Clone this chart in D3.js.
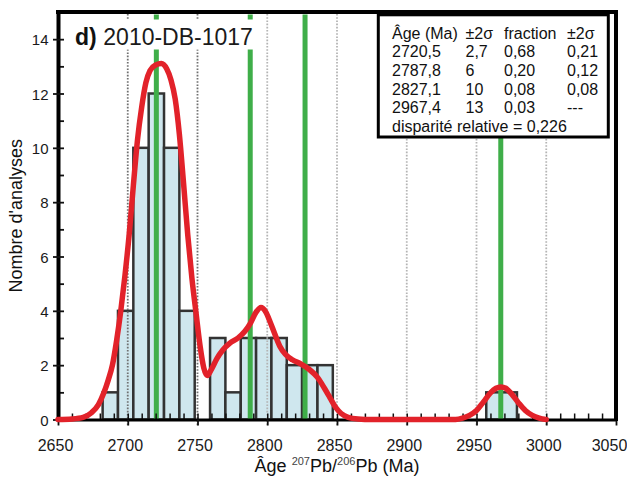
<!DOCTYPE html>
<html><head><meta charset="utf-8">
<script src="https://cdn.jsdelivr.net/npm/d3@7"></script>
<style>
body{margin:0;background:#fff}
svg{display:block;font-family:"Liberation Sans",Arial,sans-serif}
</style>
</head><body>
<svg id="c" width="627" height="480"></svg>
<script>
// ---------- data ----------
const binStarts = [2682,2693,2704,2715,2726,2737,2748,2759,2770,2781,2792,2803,2814,2825,2836,2957,2968];
const binWidthMa = 11;
const binCounts = [1,4,10,12,10,4,0,3,1,3,3,3,2,2,2,1,1];

const curveAges   = [2650,2660,2668,2674,2679,2683,2686,2689,2692,2695,2698,2701,2704,2707,2710,2713,2716,2720,2724,2728,2731,2734,2737,2740,2743,2746,2749,2752,2754.5,2757,2760,2764,2768,2773,2779,2784,2788,2792,2795.5,2799,2802,2805,2809,2813,2818,2824,2830,2836,2841,2845,2849,2853,2858,2865,2875,2900,2935,2940,2945,2950,2955,2960,2964,2967.5,2971,2975,2980,2985,2990,2995,3000];
const curveValues = [0,0.02,0.08,0.25,0.55,1.0,1.45,2.0,2.9,4.0,5.3,6.8,8.6,10.3,11.5,12.4,12.85,13.05,13.1,12.9,12.5,11.8,10.5,8.7,6.8,5.2,3.9,2.65,1.9,1.62,1.85,2.25,2.55,2.8,3.0,3.25,3.55,3.95,4.12,3.95,3.6,3.2,2.7,2.4,2.2,2.05,1.85,1.55,1.15,0.8,0.45,0.22,0.08,0.02,0,0,0,0.05,0.15,0.33,0.65,0.98,1.15,1.2,1.15,0.95,0.62,0.33,0.15,0.05,0];

const peakAges = [2720.5, 2787.8, 2827.1, 2967.4];
const gridAges = [2700, 2750, 2800, 2850, 2900, 2950, 3000];
const xTickValues = [2650, 2700, 2750, 2800, 2850, 2900, 2950, 3000, 3050];
const xMinorTicks = [2650,2660,2670,2680,2690,2700,2710,2720,2730,2740,2750,2760,2770,2780,2790,2800,2810,2820,2830,2840,2850,2860,2870,2880,2890,2900,2910,2920,2930,2940,2950,2960,2970,2980,2990,3000,3010,3020,3030,3040,3050];
const yTickValues = [0, 2, 4, 6, 8, 10, 12, 14];
const yMinorTicks = [1, 3, 5, 7, 9, 11, 13];

const sampleLabelBold = "d)";
const sampleLabel = "2010-DB-1017";
const xTitleParts = ["Âge ", "207", "Pb/", "206", "Pb (Ma)"];
const yTitle = "Nombre d'analyses";

const tableHeader  = ["Âge (Ma)", "±2σ", "fraction", "±2σ"];
const tableAge     = ["2720,5", "2787,8", "2827,1", "2967,4"];
const tableAgeErr  = ["2,7", "6", "10", "13"];
const tableFrac    = ["0,68", "0,20", "0,08", "0,03"];
const tableFracErr = ["0,21", "0,12", "0,08", "---"];
const tableFooter  = "disparité relative = 0,226";

// ---------- layout ----------
const svg = d3.select("#c");
const L = 58, R = 616, T = 12, B = 419.5;
const x = d3.scaleLinear().domain([2650, 3050]).range([L, R]);
const y = d3.scaleLinear().domain([0, 15]).range([B, T]);

// histogram bars
svg.append("g").selectAll("rect")
  .data(binStarts.map((s, i) => ({s, c: binCounts[i]})).filter(d => d.c > 0))
  .join("rect")
  .attr("x", d => x(d.s))
  .attr("y", d => y(d.c))
  .attr("width", d => x(d.s + binWidthMa) - x(d.s))
  .attr("height", d => y(0) - y(d.c))
  .attr("fill", "#cfe7ee")
  .attr("stroke", "#333")
  .attr("stroke-width", 2.5);

// dotted grid lines
svg.append("g").selectAll("line")
  .data(gridAges).join("line")
  .attr("x1", d => x(d)).attr("x2", d => x(d))
  .attr("y1", y(15) + 2).attr("y2", y(0) + 6)
  .attr("stroke", d => d <= 2750 ? "#707070" : "#b4b4b4")
  .attr("stroke-width", 1.8)
  .attr("stroke-dasharray", "1.6,1.6");

// green component lines
svg.append("g").selectAll("line")
  .data(peakAges).join("line")
  .attr("x1", d => x(d)).attr("x2", d => x(d))
  .attr("y1", y(15) + 2.5).attr("y2", y(0))
  .attr("stroke", "#3fae49")
  .attr("stroke-width", 5);

// axes
const xMinor = d3.axisBottom(x).tickValues(xMinorTicks).tickSize(-6).tickFormat("");
const gxm = svg.append("g").attr("transform", `translate(0,${B})`).call(xMinor);
gxm.select(".domain").remove();
gxm.selectAll(".tick line").attr("stroke", "#111").attr("stroke-width", 1.5);

const xAxis = d3.axisBottom(x).tickValues(xTickValues).tickSizeInner(6).tickSizeOuter(0).tickFormat(d => String(d));
const gx = svg.append("g").attr("transform", `translate(0,${B})`).call(xAxis);
gx.select(".domain").attr("stroke", "#000").attr("stroke-width", 3);
gx.selectAll(".tick line").attr("stroke", "#111").attr("stroke-width", 1.8);
gx.selectAll(".tick text").attr("y", 20.5).attr("dy", "0.71em").attr("dx", d => d === 3050 ? -7 : -3)
  .attr("font-size", 16).attr("fill", "#1a1a1a").attr("font-family", "Liberation Sans, Arial, sans-serif");

const yMinor = d3.axisLeft(y).tickValues(yMinorTicks).tickSize(-6).tickFormat("");
const gym = svg.append("g").attr("transform", `translate(${L},0)`).call(yMinor);
gym.select(".domain").remove();
gym.selectAll(".tick line").attr("stroke", "#111").attr("stroke-width", 1.8);

const yAxis = d3.axisLeft(y).tickValues(yTickValues).tickSizeInner(5).tickSizeOuter(0).tickPadding(4.5);
const gy = svg.append("g").attr("transform", `translate(${L},0)`).call(yAxis);
gy.select(".domain").attr("stroke", "#000").attr("stroke-width", 4);
gy.selectAll(".tick line").attr("stroke", "#111").attr("stroke-width", 1.8).attr("x2", -5).attr("x1", 6);
gy.selectAll(".tick text").attr("dy", "0.38em")
  .attr("font-size", 15).attr("fill", "#1a1a1a").attr("font-family", "Liberation Sans, Arial, sans-serif");

// top & right frame
svg.append("line").attr("x1", L - 2).attr("x2", R + 2).attr("y1", T).attr("y2", T)
  .attr("stroke", "#000").attr("stroke-width", 4);
svg.append("line").attr("x1", R).attr("x2", R).attr("y1", T).attr("y2", B + 1.5)
  .attr("stroke", "#000").attr("stroke-width", 4);

// probability density curve
const line = d3.line().x(d => x(d[0])).y(d => y(d[1])).curve(d3.curveMonotoneX);
svg.append("path")
  .datum(curveAges.map((a, i) => [a, curveValues[i]]))
  .attr("d", line)
  .attr("fill", "none")
  .attr("stroke", "#e2222a")
  .attr("stroke-width", 5.5)
  .attr("stroke-linejoin", "round")
  .attr("stroke-linecap", "round");

// sample label with white background
svg.append("rect").attr("x", 70).attr("y", 19.5).attr("width", 187).attr("height", 30).attr("fill", "#fff");
const lab = svg.append("text").attr("x", 75).attr("y", 45).attr("font-size", 23).attr("fill", "#1a1a1a");
lab.append("tspan").attr("font-weight", "bold").attr("fill", "#111").text(sampleLabelBold);
lab.append("tspan").attr("x", 103.3).text(sampleLabel);

// axis titles
const xt = svg.append("text").attr("x", (L + R) / 2).attr("y", 471.5).attr("text-anchor", "middle")
  .attr("font-size", 18).attr("fill", "#111");
xTitleParts.forEach((p, i) => {
  const sup = i === 1 || i === 3;
  const t = xt.append("tspan").text(p);
  if (sup) t.attr("font-size", 11).attr("dy", -7).attr("fill", "#444");
  else if (i > 0) t.attr("dy", 7);
});

svg.append("text").attr("transform", `translate(22,${(T + B) / 2}) rotate(-90)`)
  .attr("text-anchor", "middle").attr("font-size", 18).attr("fill", "#111").text(yTitle);

// legend table
const lg = svg.append("g");
lg.append("rect").attr("x", 378.3).attr("y", 14.8).attr("width", 230).attr("height", 122.2)
  .attr("fill", "#fff").attr("stroke", "#000").attr("stroke-width", 3);
const colX = [392, 465.5, 504, 567];
const rowY = [38.5, 57.3, 76, 94.7, 113.3];
const rows = [tableHeader].concat(tableAge.map((a, i) => [a, tableAgeErr[i], tableFrac[i], tableFracErr[i]]));
rows.forEach((r, ri) => {
  r.forEach((cell, ci) => {
    lg.append("text").attr("x", colX[ci]).attr("y", rowY[ri]).attr("font-size", 16)
      .attr("fill", "#111").text(cell);
  });
});
lg.append("text").attr("x", colX[0]).attr("y", 132).attr("font-size", 16).attr("fill", "#111").text(tableFooter);
</script>
</body></html>
